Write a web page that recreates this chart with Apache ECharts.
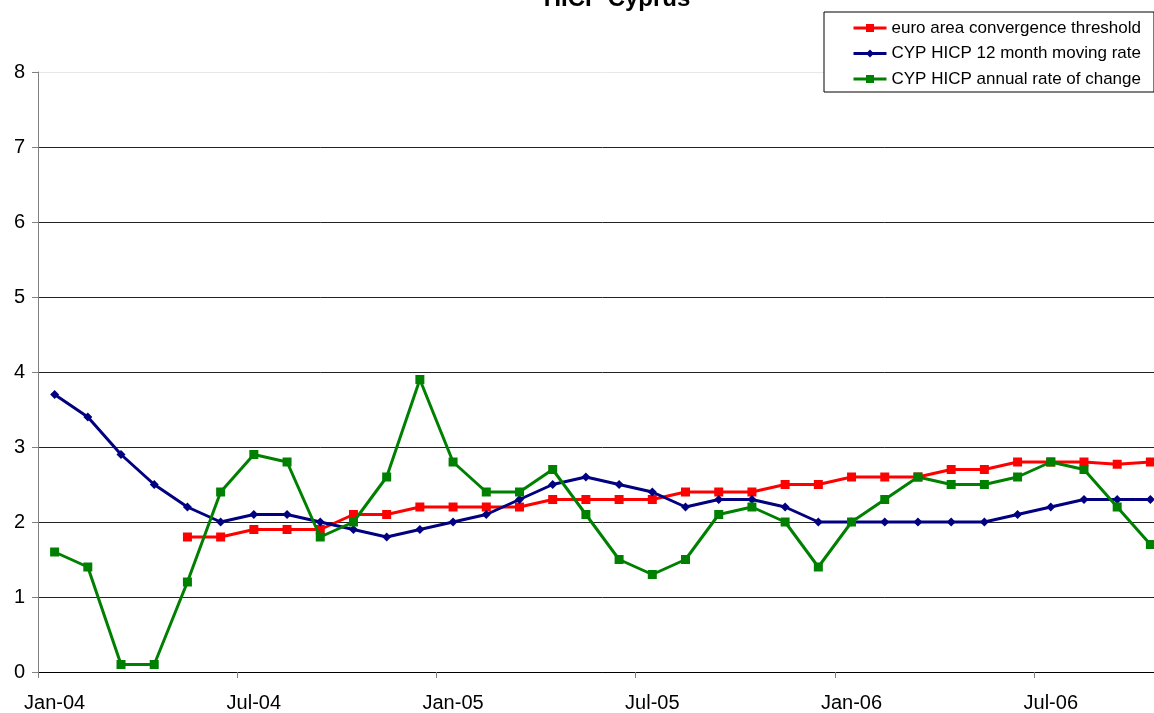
<!DOCTYPE html>
<html>
<head>
<meta charset="utf-8">
<script src="https://cdn.jsdelivr.net/npm/echarts@6/dist/echarts.min.js"></script>
<style>
html,body{margin:0;padding:0;background:#fff;overflow:hidden;width:1154px;height:713px;}
#chart{width:1167px;height:713px;}
</style>
</head>
<body>
<div id="chart"></div>
<script>
const months = [
  'Jan-04','Feb-04','Mar-04','Apr-04','May-04','Jun-04','Jul-04','Aug-04','Sep-04','Oct-04','Nov-04','Dec-04',
  'Jan-05','Feb-05','Mar-05','Apr-05','May-05','Jun-05','Jul-05','Aug-05','Sep-05','Oct-05','Nov-05','Dec-05',
  'Jan-06','Feb-06','Mar-06','Apr-06','May-06','Jun-06','Jul-06','Aug-06','Sep-06','Oct-06'
];
const euroThreshold = [
  null, null, null, null, 1.8, 1.8, 1.9, 1.9, 1.9, 2.1, 2.1, 2.2,
  2.2, 2.2, 2.2, 2.3, 2.3, 2.3, 2.3, 2.4, 2.4, 2.4, 2.5, 2.5,
  2.6, 2.6, 2.6, 2.7, 2.7, 2.8, 2.8, 2.8, 2.77, 2.8
];
const cypMoving = [
  3.7, 3.4, 2.9, 2.5, 2.2, 2.0, 2.1, 2.1, 2.0, 1.9, 1.8, 1.9,
  2.0, 2.1, 2.3, 2.5, 2.6, 2.5, 2.4, 2.2, 2.3, 2.3, 2.2, 2.0,
  2.0, 2.0, 2.0, 2.0, 2.0, 2.1, 2.2, 2.3, 2.3, 2.3
];
const cypAnnual = [
  1.6, 1.4, 0.1, 0.1, 1.2, 2.4, 2.9, 2.8, 1.8, 2.0, 2.6, 3.9,
  2.8, 2.4, 2.4, 2.7, 2.1, 1.5, 1.3, 1.5, 2.1, 2.2, 2.0, 1.4,
  2.0, 2.3, 2.6, 2.5, 2.5, 2.6, 2.8, 2.7, 2.2, 1.7
];
const seriesNames = ['euro area convergence threshold','CYP HICP 12 month moving rate','CYP HICP annual rate of change'];

const font = 'Liberation Sans, Arial, sans-serif';
const chart = echarts.init(document.getElementById('chart'), null, {renderer:'canvas', width: 1167, height: 713});
chart.setOption({
  animation: false,
  backgroundColor: '#fff',
  title: {
    text: 'HICP Cyprus',
    left: 612, top: -18, textAlign: 'center',
    textStyle: {fontFamily: font, fontSize: 24, fontWeight: 'bold', color: '#000'}
  },
  legend: {
    orient: 'vertical',
    left: 824, top: 12,
    padding: [7.5, 13, 4.5, 28],
    itemGap: 8.5,
    itemWidth: 33, itemHeight: 10,
    backgroundColor: '#fff',
    borderColor: '#000', borderWidth: 1,
    lineStyle: {width: 3},
    textStyle: {fontFamily: font, fontSize: 17, color: '#000'},
    data: seriesNames
  },
  grid: {left: 38, right: 0, top: 72, bottom: 39.5, containLabel: false},
  xAxis: {
    type: 'category',
    data: months,
    boundaryGap: true,
    axisLine: {lineStyle: {color: '#000', width: 1}},
    axisTick: {show: true, interval: 5, alignWithLabel: false, length: 6, lineStyle: {color: '#808080'}},
    axisLabel: {interval: 5, margin: 21, fontFamily: font, fontSize: 20, color: '#000'},
    splitLine: {show: false}
  },
  yAxis: {
    type: 'value', min: 0, max: 8, interval: 1,
    axisLine: {show: true, lineStyle: {color: '#808080', width: 1}},
    axisTick: {show: true, length: 6, lineStyle: {color: '#808080'}},
    axisLabel: {margin: 13, fontFamily: font, fontSize: 20, color: '#000'},
    splitLine: {show: true, lineStyle: {color: ['#000','#222','#222','#222','#222','#222','#222','#222','#e8e8e8'], width: 1}}
  },
  series: [
    {
      name: seriesNames[0], type: 'line', data: euroThreshold,
      symbol: 'rect', symbolSize: 9, showAllSymbol: true,
      lineStyle: {color: '#ff0000', width: 3},
      itemStyle: {color: '#ff0000'},
      connectNulls: false, z: 3
    },
    {
      name: seriesNames[1], type: 'line', data: cypMoving,
      symbol: 'diamond', symbolSize: 9, showAllSymbol: true,
      lineStyle: {color: '#000080', width: 3},
      itemStyle: {color: '#000080'},
      z: 4
    },
    {
      name: seriesNames[2], type: 'line', data: cypAnnual,
      symbol: 'rect', symbolSize: 9, showAllSymbol: true,
      lineStyle: {color: '#008000', width: 3},
      itemStyle: {color: '#008000'},
      z: 5
    }
  ]
});
</script>
</body>
</html>
